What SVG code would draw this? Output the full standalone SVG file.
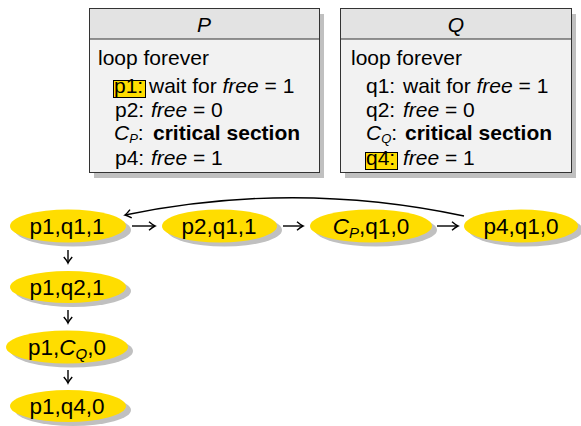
<svg xmlns="http://www.w3.org/2000/svg" width="581" height="426" viewBox="0 0 581 426">
<style>
text{font-family:"Liberation Sans",Arial,sans-serif;fill:#000}
.t{font-size:21px}
.n{font-size:22.5px;text-anchor:middle}
.i{font-style:italic}
.b{font-weight:bold}
.sub{font-size:13px;font-style:italic}
.nsub{font-size:15px;font-style:italic}
.shadow{fill:#c0c0c0}
.body{fill:#f2f2f2;stroke:#333;stroke-width:1}
.head{fill:#e3e3e3;stroke:#333;stroke-width:1}
.hl{fill:#ffdd00;stroke:#000;stroke-width:1}
.node{fill:#ffdd00}
.edge{fill:none;stroke:#000;stroke-width:1.4;marker-end:url(#ah)}
</style>
<defs>
<marker id="ah" markerWidth="12" markerHeight="12" refX="9" refY="6" orient="auto" markerUnits="userSpaceOnUse" viewBox="0 0 12 12"><path d="M3,1.8 Q7,5.2 9,6 Q7,6.8 3,10.2" fill="none" stroke="#000" stroke-width="1.4"/></marker>
</defs>
<rect width="581" height="426" fill="#fff"/>
<g id="boxP">
<rect class="shadow" x="94" y="14" width="230" height="164"/>
<rect class="body" x="89.5" y="8.5" width="230" height="164"/>
<rect class="head" x="89.5" y="8.5" width="230" height="30.5"/>
<text class="t i" x="204" y="32" text-anchor="middle">P</text>
<text class="t" x="98" y="65">loop forever</text>
<rect class="hl" x="113.5" y="80.5" width="32" height="17"/>
<text class="t" x="114" y="93">p1:<tspan x="149">wait for </tspan><tspan class="i">free</tspan> = 1</text>
<text class="t" x="115" y="117">p2:<tspan x="151" class="i">free</tspan> = 0</text>
<text class="t" x="114" y="140"><tspan class="i">C</tspan><tspan class="sub" dy="3">P</tspan><tspan dy="-3">:</tspan><tspan x="153" class="b">critical section</tspan></text>
<text class="t" x="115" y="165">p4:<tspan x="151" class="i">free</tspan> = 1</text>
</g>
<g id="boxQ">
<rect class="shadow" x="345" y="14" width="231" height="164"/>
<rect class="body" x="340.5" y="8.5" width="231" height="164"/>
<rect class="head" x="340.5" y="8.5" width="231" height="30.5"/>
<text class="t i" x="456" y="32" text-anchor="middle">Q</text>
<text class="t" x="351" y="65">loop forever</text>
<text class="t" x="366" y="93">q1:<tspan x="403">wait for </tspan><tspan class="i">free</tspan> = 1</text>
<text class="t" x="366" y="117">q2:<tspan x="403" class="i">free</tspan> = 0</text>
<text class="t" x="366" y="140"><tspan class="i">C</tspan><tspan class="sub" dy="3">Q</tspan><tspan dy="-3">:</tspan><tspan x="405" class="b">critical section</tspan></text>
<rect class="hl" x="365.5" y="152.5" width="32" height="17"/>
<text class="t" x="366" y="165">q4:<tspan x="403" class="i">free</tspan> = 1</text>
</g>
<g id="edges">
<path class="edge" d="M132,226 H155"/>
<path class="edge" d="M283,226 H303"/>
<path class="edge" d="M437,226 H458"/>
<path class="edge" d="M464,216 Q295,180 125,215"/>
<path class="edge" d="M68,250 V263"/>
<path class="edge" d="M68,310 V323"/>
<path class="edge" d="M68,370 V383"/>
</g>
<g id="n1"><ellipse class="shadow" cx="73" cy="230" rx="58" ry="16.5"/><ellipse class="node" cx="68" cy="226" rx="58" ry="16.5"/><text class="n" x="67" y="234">p1,q1,1</text></g>
<g id="n2"><ellipse class="shadow" cx="224.5" cy="230" rx="57.5" ry="16.5"/><ellipse class="node" cx="219.5" cy="226" rx="57.5" ry="16.5"/><text class="n" x="219" y="234">p2,q1,1</text></g>
<g id="n3"><ellipse class="shadow" cx="376" cy="230" rx="61" ry="16.5"/><ellipse class="node" cx="371" cy="226" rx="61" ry="16.5"/><text class="n" x="371" y="234"><tspan class="i">C</tspan><tspan class="nsub" dy="4">P</tspan><tspan dy="-4">,q1,0</tspan></text></g>
<g id="n4"><ellipse class="shadow" cx="526" cy="230" rx="57" ry="16.5"/><ellipse class="node" cx="521" cy="226" rx="57" ry="16.5"/><text class="n" x="521" y="234">p4,q1,0</text></g>
<g id="n5"><ellipse class="shadow" cx="73" cy="291" rx="58" ry="16"/><ellipse class="node" cx="68" cy="287" rx="58" ry="16"/><text class="n" x="67" y="295">p1,q2,1</text></g>
<g id="n6"><ellipse class="shadow" cx="72" cy="351" rx="61" ry="16.5"/><ellipse class="node" cx="67" cy="347" rx="61" ry="16.5"/><text class="n" x="67" y="355">p1,<tspan class="i">C</tspan><tspan class="nsub" dy="4">Q</tspan><tspan dy="-4">,0</tspan></text></g>
<g id="n7"><ellipse class="shadow" cx="73" cy="410" rx="58" ry="16"/><ellipse class="node" cx="68" cy="406" rx="58" ry="16"/><text class="n" x="67" y="414">p1,q4,0</text></g>
</svg>
